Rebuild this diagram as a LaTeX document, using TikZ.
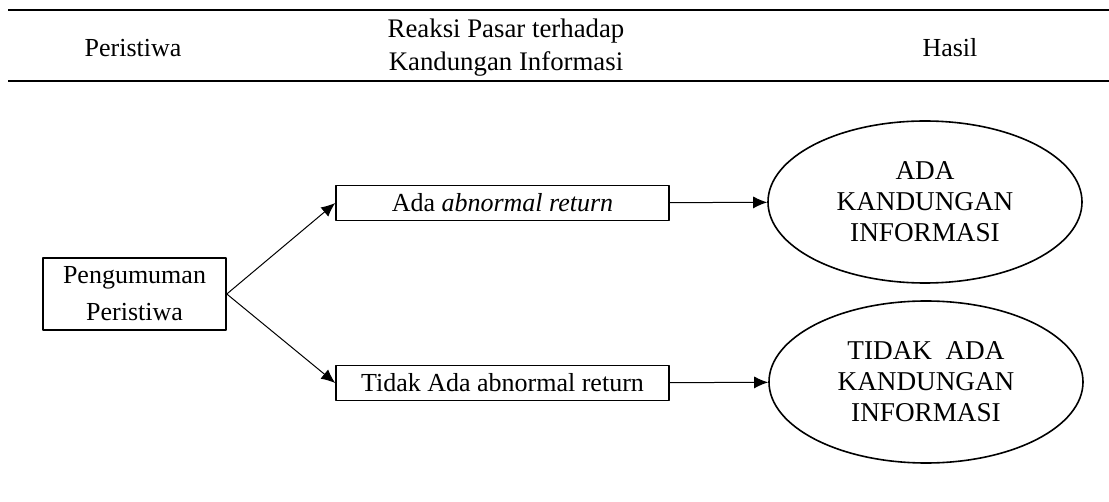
\documentclass[tikz,border=0pt]{standalone}
\usepackage{fontspec}
\setmainfont{Liberation Serif}
\usetikzlibrary{shapes.geometric,arrows.meta}

\begin{document}
\begin{tikzpicture}[x=0.5pt, y=-0.5pt, font=\fontsize{13}{15.5}\selectfont, line join=round,
>={Latex[length=7pt,width=6pt]},
kotak/.style={draw, line width=0.8pt, inner sep=0pt, align=center},
hasil/.style={draw, ellipse, line width=0.8pt, minimum width=157pt, minimum height=81pt, inner sep=0pt, align=center, font=\fontsize{13.6}{15.5}\selectfont}]
\useasboundingbox (0,0) rectangle (1109,502);
% header table
\draw[line width=1.2pt] (8,10)--(1109,10) (8,81)--(1109,81);
\node (hPeristiwa) at (133,48) {Peristiwa};
\node[align=center, font=\fontsize{13.4}{16.5}\selectfont] (hReaksi) at (506,48) {Reaksi Pasar terhadap\\Kandungan Informasi};
\node (hHasil) at (950,48) {Hasil};
% boxes
\node[kotak, minimum width=91.5pt, minimum height=36pt, font=\fontsize{13}{18.5}\selectfont] (umum) at (134.5,294) {Pengumuman\\Peristiwa};
\node[kotak, minimum width=166.5pt, minimum height=17.5pt] (ada) at (502.5,203) {Ada \textit{abnormal return}};
\node[kotak, minimum width=166.5pt, minimum height=17.5pt] (tidak) at (502.5,383) {Tidak Ada abnormal return};
\node[hasil] (info) at (925,202) {ADA\\KANDUNGAN\\INFORMASI};
\node[hasil] (noinfo) at (926,382) {TIDAK~~ADA\\KANDUNGAN\\INFORMASI};
% arrows
\draw[->, line width=0.5pt] (umum.east) -- (ada.west);
\draw[->, line width=0.5pt] (umum.east) -- (tidak.west);
\draw[->, line width=0.5pt] (ada) -- (info);
\draw[->, line width=0.5pt] (tidak) -- (noinfo);
\end{tikzpicture}
\end{document}
